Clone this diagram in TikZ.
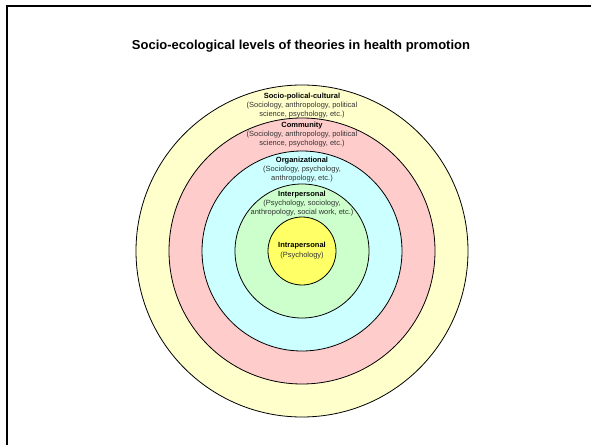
\documentclass[tikz,border=0pt]{standalone}
\usepackage{fontspec}
\setmainfont{Liberation Sans}
\usepackage{tikz}
\usetikzlibrary{positioning}

\definecolor{outeryellow}{HTML}{FFFFCC}
\definecolor{rose}{HTML}{FFCCCC}
\definecolor{aqua}{HTML}{CCFFFF}
\definecolor{mint}{HTML}{CCFFCC}
\definecolor{core}{HTML}{FFFF66}

\begin{document}
\begin{tikzpicture}[x=1pt,y=1pt,
    ring/.style={circle,draw,line width=0.8pt,inner sep=0pt},
    level/.style={align=center,inner sep=0pt,text=black!80,
                  font=\fontsize{7.5}{9}\selectfont}]
   \useasboundingbox (0,0) rectangle (591,445);
   \draw[line width=2pt] (7,0) -- (7,439) -- (591,439);
   \node[font=\bfseries\fontsize{13}{15}\selectfont] (title) at (301,399)
      {Socio-ecological levels of theories in health promotion};

   % rings, outside in
   \node[ring,fill=outeryellow,minimum size=332pt] (soc)   at (302,194) {};
   \node[ring,fill=rose,minimum size=266pt]        (comm)  at (soc) {};
   \node[ring,fill=aqua,minimum size=200pt]        (org)   at (soc) {};
   \node[ring,fill=mint,minimum size=134pt]        (inter) at (soc) {};
   \node[ring,fill=core,minimum size=68pt]         (intra) at (soc) {};

   \node[level,below=8pt of soc.north]
      {\textbf{\color{black}Socio-polical-cultural}\\(Sociology, anthropology, political\\science, psychology, etc.)};
   \node[level,below=4pt of comm.north]
      {\textbf{\color{black}Community}\\(Sociology, anthropology, political\\science, psychology, etc.)};
   \node[level,below=6pt of org.north]
      {\textbf{\color{black}Organizational}\\(Sociology, psychology,\\anthropology, etc.)};
   \node[level,below=7pt of inter.north]
      {\textbf{\color{black}Interpersonal}\\(Psychology, sociology,\\anthropology, social work, etc.)};
   \node[level,font=\fontsize{7.5}{10}\selectfont] at (intra)
      {\textbf{\color{black}Intrapersonal}\\(Psychology)};
\end{tikzpicture}
\end{document}
